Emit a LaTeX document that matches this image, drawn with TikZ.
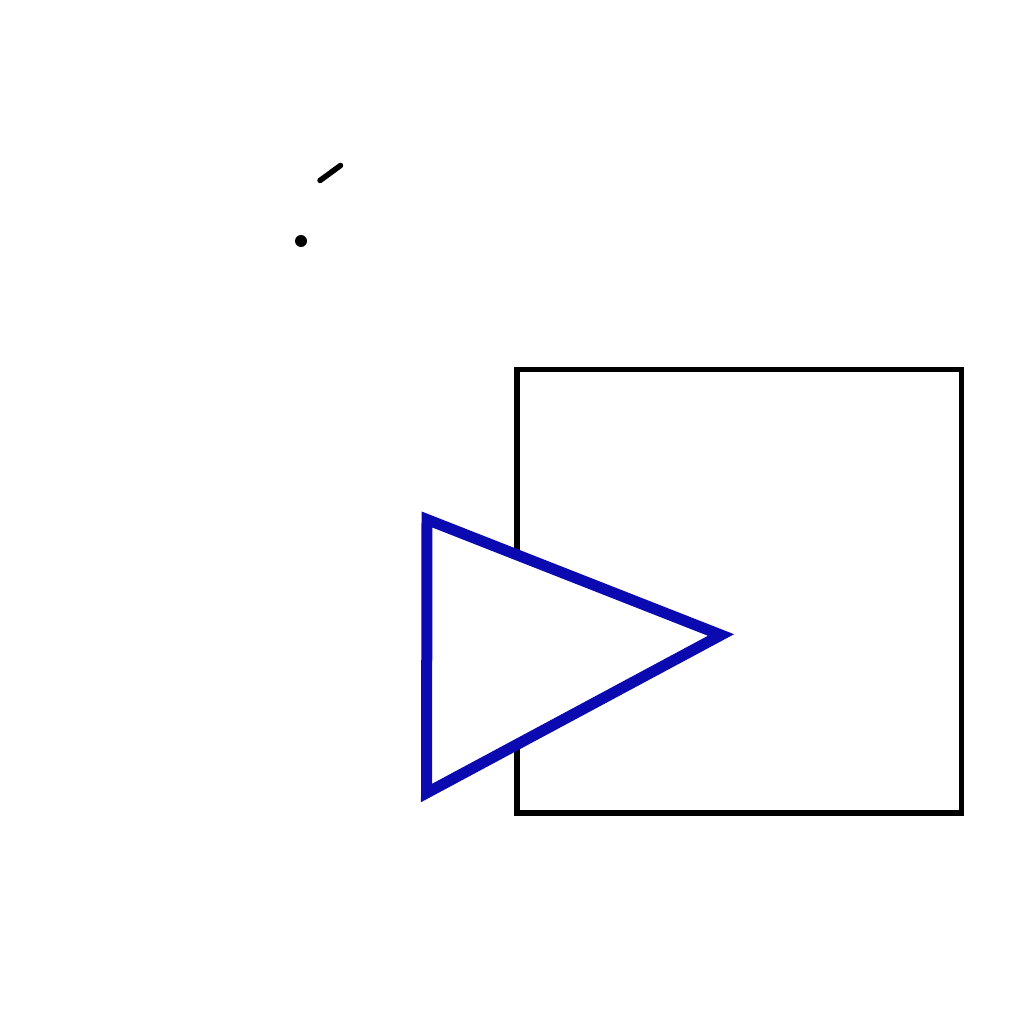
\documentclass[tikz,border=0pt]{standalone}
\definecolor{triblue}{RGB}{10,10,176}
\begin{document}
\begin{tikzpicture}[x=1pt,y=-1pt,
  boxline/.style={draw=black,line width=5.5pt},
  triline/.style={draw=triblue,fill=white,line width=11pt,line join=miter},
  tick/.style={draw=black,line width=5.5pt,line cap=round}]
\useasboundingbox (0,0) rectangle (1024,1024);
\coordinate (sqa) at (517,369.5);
\coordinate (sqb) at (961.5,813);
\draw[boxline] (sqa) rectangle (sqb);
\coordinate (ta) at (427,519.5);
\coordinate (tb) at (721,635);
\coordinate (tc) at (426.5,793);
\draw[triline] (ta) -- (tb) -- (tc) -- cycle;
\coordinate (la) at (320,180.5);
\coordinate (lb) at (340.5,165.5);
\draw[tick] (la) -- (lb);
\coordinate (dot) at (301,241);
\fill[black] (dot) circle (6);
\end{tikzpicture}
\end{document}
